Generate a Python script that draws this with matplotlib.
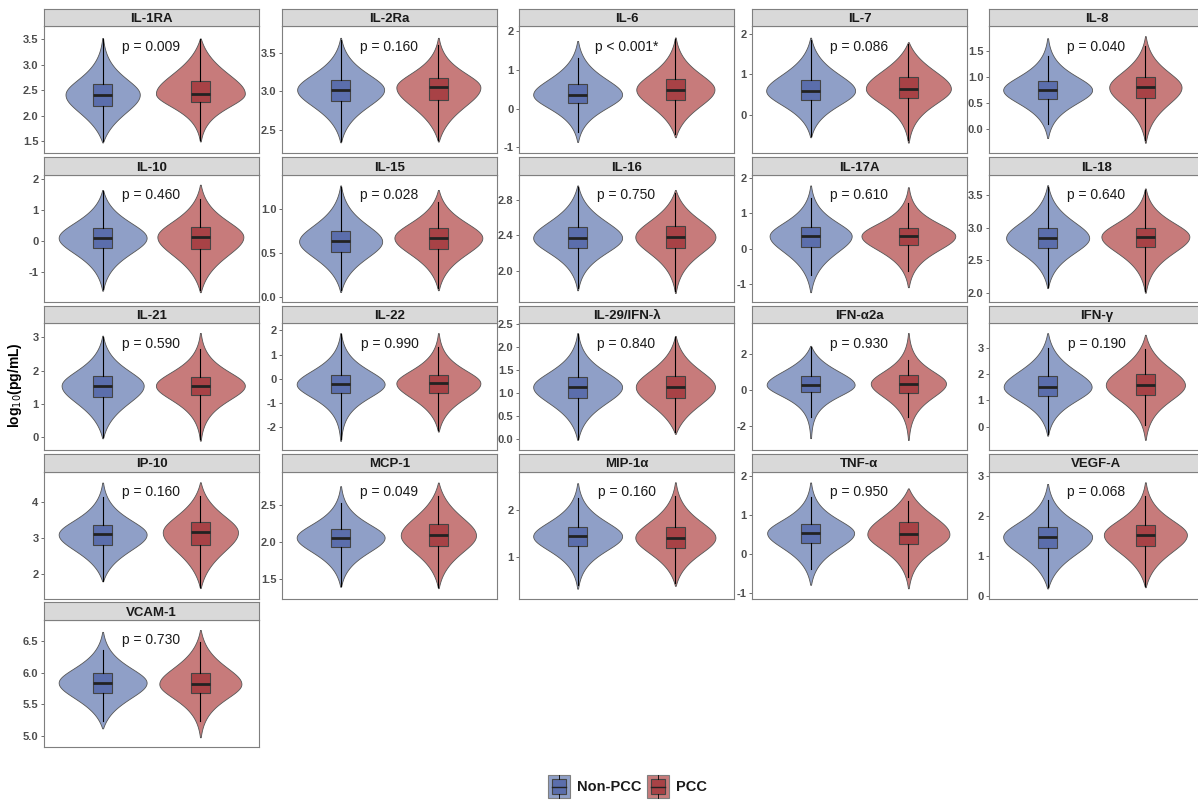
import numpy as np
import matplotlib.pyplot as plt

plt.rcParams['font.family'] = ['Liberation Sans', 'DejaVu Sans']

markers = ['IL-1RA', 'IL-2Ra', 'IL-6', 'IL-7', 'IL-8',
           'IL-10', 'IL-15', 'IL-16', 'IL-17A', 'IL-18',
           'IL-21', 'IL-22', 'IL-29/IFN-λ', 'IFN-α2a', 'IFN-γ',
           'IP-10', 'MCP-1', 'MIP-1α', 'TNF-α', 'VEGF-A',
           'VCAM-1']
pvals = ['p = 0.009', 'p = 0.160', 'p < 0.001*', 'p = 0.086', 'p = 0.040',
         'p = 0.460', 'p = 0.028', 'p = 0.750', 'p = 0.610', 'p = 0.640',
         'p = 0.590', 'p = 0.990', 'p = 0.840', 'p = 0.930', 'p = 0.190',
         'p = 0.160', 'p = 0.049', 'p = 0.160', 'p = 0.950', 'p = 0.068',
         'p = 0.730']

# free y scale per panel
ylims = [(1.27, 3.76), (2.2, 3.84), (-1.15, 2.12), (-0.93, 2.18), (-0.46, 1.97),
         (-1.97, 2.14), (-0.05, 1.38), (1.65, 3.08), (-1.49, 2.08), (1.86, 3.81),
         (-0.38, 3.43), (-2.94, 2.31), (-0.24, 2.52), (-3.33, 3.74), (-0.90, 3.97),
         (1.31, 4.86), (1.23, 2.96), (0.12, 2.83), (-1.13, 2.11), (-0.06, 3.11),
         (4.83, 6.83)]
yticks = [[1.5, 2.0, 2.5, 3.0, 3.5], [2.5, 3.0, 3.5], [-1, 0, 1, 2], [0, 1, 2], [0.0, 0.5, 1.0, 1.5],
          [-1, 0, 1, 2], [0.0, 0.5, 1.0], [2.0, 2.4, 2.8], [-1, 0, 1, 2], [2.0, 2.5, 3.0, 3.5],
          [0, 1, 2, 3], [-2, -1, 0, 1, 2], [0.0, 0.5, 1.0, 1.5, 2.0, 2.5], [-2, 0, 2], [0, 1, 2, 3],
          [2, 3, 4], [1.5, 2.0, 2.5], [1, 2], [-1, 0, 1, 2], [0, 1, 2, 3],
          [5.0, 5.5, 6.0, 6.5]]
ytick_fmt = ['%.1f', '%.1f', '%d', '%d', '%.1f',
             '%d', '%.1f', '%.1f', '%d', '%.1f',
             '%d', '%d', '%.1f', '%d', '%d',
             '%d', '%.1f', '%d', '%d', '%d',
             '%.1f']

# [min, whisker low, q1, median, q3, whisker high, max]
non_pcc = [
    [1.48, 1.50, 2.19, 2.42, 2.62, 3.50, 3.53],
    [2.34, 2.36, 2.88, 3.02, 3.15, 3.66, 3.69],
    [-0.86, -0.60, 0.13, 0.36, 0.62, 1.30, 1.74],
    [-0.54, -0.50, 0.37, 0.60, 0.86, 1.85, 1.90],
    [-0.17, 0.10, 0.58, 0.75, 0.92, 1.40, 1.74],
    [-1.61, -1.55, -0.23, 0.10, 0.42, 1.60, 1.65],
    [0.06, 0.08, 0.51, 0.63, 0.75, 1.24, 1.26],
    [1.78, 1.80, 2.26, 2.37, 2.49, 2.94, 2.96],
    [-1.22, -0.75, 0.06, 0.36, 0.61, 1.43, 1.78],
    [2.07, 2.09, 2.69, 2.84, 3.00, 3.62, 3.65],
    [-0.03, 0.00, 1.21, 1.55, 1.84, 3.00, 3.05],
    [-2.56, -2.50, -0.58, -0.22, 0.15, 1.85, 1.89],
    [-0.02, 0.00, 0.90, 1.13, 1.34, 2.28, 2.30],
    [-2.67, -1.50, -0.11, 0.30, 0.79, 2.40, 2.47],
    [-0.35, -0.30, 1.17, 1.52, 1.92, 3.00, 3.58],
    [1.79, 1.80, 2.81, 3.10, 3.36, 4.14, 4.55],
    [1.39, 1.40, 1.93, 2.06, 2.18, 2.53, 2.76],
    [0.33, 0.40, 1.25, 1.45, 1.65, 2.26, 2.58],
    [-0.78, -0.38, 0.29, 0.54, 0.76, 1.45, 1.83],
    [0.19, 0.22, 1.20, 1.48, 1.72, 2.40, 2.80],
    [5.12, 5.23, 5.68, 5.84, 5.99, 6.35, 6.64],
]
pcc = [
    [1.50, 1.52, 2.27, 2.44, 2.69, 3.50, 3.52],
    [2.35, 2.37, 2.89, 3.05, 3.17, 3.60, 3.69],
    [-0.74, -0.65, 0.21, 0.49, 0.75, 1.80, 1.83],
    [-0.67, -0.60, 0.41, 0.65, 0.93, 1.75, 1.79],
    [-0.26, -0.20, 0.59, 0.80, 0.99, 1.60, 1.78],
    [-1.66, -1.60, -0.26, 0.13, 0.46, 1.35, 1.82],
    [0.08, 0.10, 0.55, 0.67, 0.78, 1.07, 1.21],
    [1.75, 1.77, 2.26, 2.38, 2.50, 2.88, 2.91],
    [-1.08, -0.63, 0.10, 0.36, 0.59, 1.29, 1.73],
    [2.00, 2.02, 2.70, 2.86, 3.00, 3.57, 3.60],
    [-0.10, -0.05, 1.27, 1.55, 1.82, 2.65, 3.13],
    [-2.18, -2.10, -0.58, -0.18, 0.17, 1.30, 1.89],
    [0.11, 0.15, 0.88, 1.13, 1.36, 2.22, 2.24],
    [-2.77, -1.50, -0.13, 0.37, 0.82, 1.68, 3.18],
    [-0.51, 0.04, 1.21, 1.59, 2.00, 2.96, 3.52],
    [1.60, 1.62, 2.81, 3.16, 3.46, 4.18, 4.56],
    [1.37, 1.38, 1.94, 2.09, 2.25, 2.62, 2.81],
    [0.39, 0.45, 1.20, 1.42, 1.64, 2.30, 2.60],
    [-0.87, -0.59, 0.26, 0.51, 0.81, 1.36, 1.68],
    [0.22, 0.25, 1.25, 1.53, 1.77, 2.50, 2.84],
    [4.98, 5.23, 5.67, 5.82, 5.99, 6.48, 6.67],
]
# widest point of each violin (x units)
width_non = [0.76, 0.89, 0.91, 0.91, 0.91, 0.90, 0.85, 0.91, 0.84, 0.85,
             0.84, 0.90, 0.91, 0.90, 0.90, 0.90, 0.90, 0.91, 0.89, 0.91, 0.90]
width_pcc = [0.91, 0.86, 0.80, 0.87, 0.74, 0.88, 0.90, 0.82, 0.96, 0.90,
             0.91, 0.86, 0.81, 0.77, 0.81, 0.77, 0.77, 0.82, 0.84, 0.85, 0.84]

groups = ['Non-PCC', 'PCC']
violin_cols = ['#8F9FC7', '#C77B7B']
box_cols = ['#5B6EAC', '#A84246']

W, H = 1198, 800
col_left = [44, 282, 519, 752, 989]
row_top = [8.7, 157.3, 305.5, 454, 602.3]
panel_w = 215
strip_h = 17.5
panel_h = 127


def violin_stats(s):
    lo, wlo, q1, med, q3, whi, hi = s
    y = np.linspace(lo, hi, 400)
    sd_lo = (med - q1) / 0.674
    sd_hi = (q3 - med) / 0.674
    z = np.where(y < med, (y - med) / sd_lo, (y - med) / sd_hi)
    # taper to a point at the data extremes
    t = np.where(y < med, (med - y) / (med - lo), (y - med) / (hi - med))
    dens = (1.0 / np.cosh(0.95 * z)) * (1 - t ** 3) + 0.01
    return dict(coords=y, vals=dens, mean=med, median=med, min=lo, max=hi)


def box_stats(s):
    lo, wlo, q1, med, q3, whi, hi = s
    return dict(med=med, q1=q1, q3=q3, whislo=wlo, whishi=whi, fliers=[])


fig = plt.figure(figsize=(W / 100, H / 100), dpi=100)

for i, name in enumerate(markers):
    r, c = divmod(i, 5)
    x0 = col_left[c] / W
    top = row_top[r]
    ax = fig.add_axes([x0, 1 - (top + strip_h + panel_h) / H, panel_w / W, panel_h / H])
    sax = fig.add_axes([x0, 1 - (top + strip_h) / H, panel_w / W, strip_h / H])

    stats = [non_pcc[i], pcc[i]]
    wids = [width_non[i], width_pcc[i]]
    for g in range(2):
        vp = ax.violin([violin_stats(stats[g])], positions=[g + 1], widths=[wids[g]],
                       showmeans=False, showextrema=False, showmedians=False)
        for b in vp['bodies']:
            b.set_facecolor(violin_cols[g])
            b.set_edgecolor('#555555')
            b.set_linewidth(0.6)
            b.set_alpha(1)
        ax.bxp([box_stats(stats[g])], positions=[g + 1], widths=0.2, showfliers=False,
               showcaps=False, patch_artist=True,
               boxprops=dict(facecolor=box_cols[g], edgecolor='#444444', linewidth=0.8),
               medianprops=dict(color='#222222', linewidth=2.0),
               whiskerprops=dict(color='black', linewidth=0.8), zorder=3)

    ax.set_xlim(0.4, 2.6)
    ax.set_ylim(*ylims[i])
    ax.set_xticks([])
    ax.set_yticks(yticks[i])
    ax.set_yticklabels([ytick_fmt[i] % t for t in yticks[i]])
    ax.tick_params(axis='y', length=2.5, width=0.6, color='#555555', pad=1.5,
                   labelsize=8, labelcolor='#4D4D4D')
    for lab in ax.get_yticklabels():
        lab.set_fontweight('bold')
    for sp in ax.spines.values():
        sp.set_color('#7F7F7F')
        sp.set_linewidth(0.8)
    ax.text(1.5, 0.85, pvals[i], transform=ax.get_xaxis_transform(), ha='center',
            va='center_baseline', fontsize=10, color='#1A1A1A')

    sax.set_facecolor('#D9D9D9')
    sax.set_xticks([])
    sax.set_yticks([])
    for sp in sax.spines.values():
        sp.set_color('#7F7F7F')
        sp.set_linewidth(0.8)
    sax.text(0.5, 0.24, name, transform=sax.transAxes, ha='center', va='baseline',
             fontsize=9.5, fontweight='bold', color='#1A1A1A')

fig.text(15 / W, 1 - 385 / H, 'log$_{10}$(pg/mL)', rotation=90, ha='center', va='center',
         fontsize=10, fontweight='bold')

# legend
lax = fig.add_axes([0, 0, 1, 1], facecolor='none')
lax.set_xlim(0, W)
lax.set_ylim(H, 0)
lax.axis('off')
key_x = [548, 647]
text_x = [577, 676]
for g in range(2):
    lax.add_patch(plt.Rectangle((key_x[g], 775), 22, 23, facecolor=violin_cols[g],
                                edgecolor='#7F7F7F', linewidth=0.8))
    lax.add_patch(plt.Rectangle((key_x[g] + 4, 779), 14, 15, facecolor=box_cols[g],
                                edgecolor='#444444', linewidth=0.8))
    lax.plot([key_x[g] + 4, key_x[g] + 18], [786.5, 786.5], color='#222222', lw=1.0)
    lax.plot([key_x[g] + 11, key_x[g] + 11], [775, 779], color='black', lw=0.6)
    lax.plot([key_x[g] + 11, key_x[g] + 11], [794, 798], color='black', lw=0.6)
    lax.text(text_x[g], 787, groups[g], ha='left', va='center', fontsize=10.5,
             fontweight='bold', color='#1A1A1A')

fig.savefig('out.png', dpi=100)
